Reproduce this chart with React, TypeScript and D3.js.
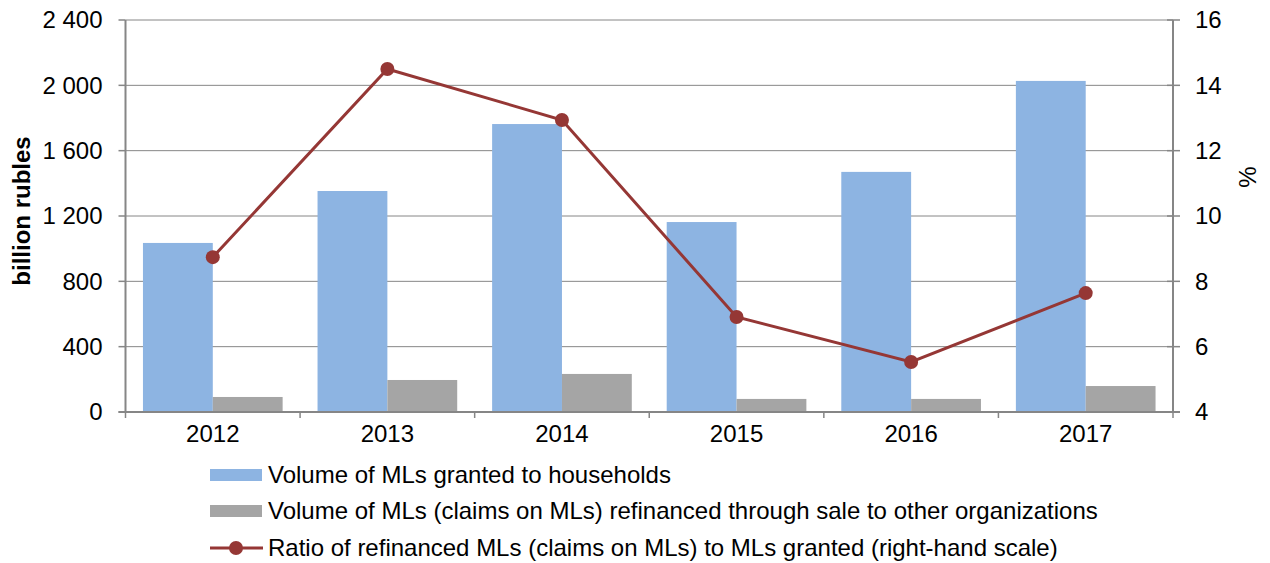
import * as d3 from "d3";

const years = ["2012", "2013", "2014", "2015", "2016", "2017"];
const granted = [1035, 1353, 1763, 1163, 1470, 2027];
const refinanced = [92, 196, 233, 80, 80, 159];
const ratio = [8.74, 14.5, 12.94, 6.91, 5.53, 7.64];

const leftTicks = [0, 400, 800, 1200, 1600, 2000, 2400];
const rightTicks = [4, 6, 8, 10, 12, 14, 16];

const legendLabels = [
  "Volume of MLs granted to households",
  "Volume of MLs (claims on MLs) refinanced through sale to other organizations",
  "Ratio of refinanced MLs (claims on MLs) to MLs granted (right-hand scale)",
];

const BLUE = "#8db4e2";
const GREY = "#a5a5a5";
const RED = "#953735";
const AXIS = "#868686";

const W = 1270;
const H = 563;
const PLOT = { left: 125.5, right: 1173, top: 20, bottom: 412 };
const FS = 24;

const fmt = (v: number) => d3.format(",")(v).replace(/,/g, " ");

export default function App() {
  const x = d3.scaleBand().domain(years).range([PLOT.left, PLOT.right]);
  // gap width 50% of bar width: band = 2*bar + 0.5*bar
  const barW = x.bandwidth() / 2.5;
  const off = barW * 0.25;

  const yL = d3.scaleLinear().domain([0, 2400]).range([PLOT.bottom, PLOT.top]);
  const yR = d3.scaleLinear().domain([4, 16]).range([PLOT.bottom, PLOT.top]);

  const cx = (i: number) => (x(years[i]) ?? 0) + x.bandwidth() / 2;

  const line = d3
    .line<number>()
    .x((_, i) => cx(i))
    .y((d) => yR(d));

  const font = "'Liberation Sans', Arial, sans-serif";

  return (
    <svg
      width={W}
      height={H}
      style={{ position: "absolute", left: 0, top: 0 }}
      fontFamily={font}
    >
      <rect width={W} height={H} fill="white" />
      {/* gridlines */}
      {leftTicks.map((t) => (
        <line
          key={t}
          x1={PLOT.left}
          x2={PLOT.right}
          y1={yL(t)}
          y2={yL(t)}
          stroke={AXIS}
          strokeWidth={1}
        />
      ))}

      {/* bars */}
      {years.map((yr, i) => {
        const x0 = (x(yr) ?? 0) + off;
        return (
          <g key={yr}>
            <rect
              x={x0}
              y={yL(granted[i])}
              width={barW}
              height={yL(0) - yL(granted[i])}
              fill={BLUE}
            />
            <rect
              x={x0 + barW}
              y={yL(refinanced[i])}
              width={barW}
              height={yL(0) - yL(refinanced[i])}
              fill={GREY}
            />
          </g>
        );
      })}

      {/* axes */}
      <line x1={PLOT.left} x2={PLOT.left} y1={PLOT.top} y2={PLOT.bottom} stroke={AXIS} strokeWidth={2} />
      <line x1={PLOT.right} x2={PLOT.right} y1={PLOT.top} y2={PLOT.bottom} stroke={AXIS} strokeWidth={2} />
      <line x1={PLOT.left - 7} x2={PLOT.right + 7} y1={PLOT.bottom} y2={PLOT.bottom} stroke={AXIS} strokeWidth={2} />

      {leftTicks.map((t) => (
        <g key={t}>
          <line x1={PLOT.left - 7} x2={PLOT.left} y1={yL(t)} y2={yL(t)} stroke={AXIS} strokeWidth={1.5} />
          <text x={PLOT.left - 23} y={yL(t)} dy="0.35em" textAnchor="end" fontSize={FS} fill="#000">
            {fmt(t)}
          </text>
        </g>
      ))}
      {rightTicks.map((t) => (
        <g key={t}>
          <line x1={PLOT.right - 6} x2={PLOT.right + 7} y1={yR(t)} y2={yR(t)} stroke={AXIS} strokeWidth={1.5} />
          <text x={PLOT.right + 22} y={yR(t)} dy="0.35em" textAnchor="start" fontSize={FS} fill="#000">
            {t}
          </text>
        </g>
      ))}
      {years.map((yr) => (
        <g key={yr}>
          <line
            x1={(x(yr) ?? 0) + x.bandwidth()}
            x2={(x(yr) ?? 0) + x.bandwidth()}
            y1={PLOT.bottom}
            y2={PLOT.bottom + 6}
            stroke={AXIS}
            strokeWidth={1.5}
          />
          <text
            x={(x(yr) ?? 0) + x.bandwidth() / 2}
            y={PLOT.bottom + 30}
            textAnchor="middle"
            fontSize={FS}
            fill="#000"
          >
            {yr}
          </text>
        </g>
      ))}
      <line x1={PLOT.left} x2={PLOT.left} y1={PLOT.bottom} y2={PLOT.bottom + 6} stroke={AXIS} strokeWidth={1.5} />

      {/* line series */}
      <path d={line(ratio) ?? ""} fill="none" stroke={RED} strokeWidth={3} />
      {ratio.map((v, i) => (
        <circle key={i} cx={cx(i)} cy={yR(v)} r={7} fill={RED} />
      ))}

      {/* axis titles */}
      <text
        transform={`translate(22,211) rotate(-90)`}
        textAnchor="middle"
        dy="0.35em"
        fontSize={FS}
        fontWeight="bold"
        fill="#000"
      >
        billion rubles
      </text>
      <text
        transform={`translate(1248,177) rotate(-90)`}
        textAnchor="middle"
        dy="0.35em"
        fontSize={FS}
        fill="#000"
      >
        %
      </text>

      {/* legend */}
      <rect x={210} y={469} width={52} height={12} fill={BLUE} />
      <text x={268} y={475} dy="0.35em" fontSize={FS} fill="#000">
        {legendLabels[0]}
      </text>
      <rect x={210} y={505} width={52} height={12} fill={GREY} />
      <text x={268} y={511} dy="0.35em" fontSize={FS} fill="#000">
        {legendLabels[1]}
      </text>
      <line x1={210} x2={263} y1={548} y2={548} stroke={RED} strokeWidth={3} />
      <circle cx={236} cy={548} r={7} fill={RED} />
      <text x={268} y={548} dy="0.35em" fontSize={FS} fill="#000">
        {legendLabels[2]}
      </text>
    </svg>
  );
}
